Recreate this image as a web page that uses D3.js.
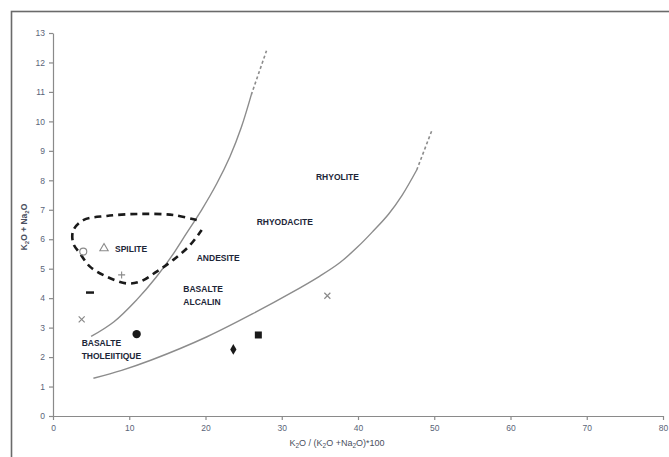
<!DOCTYPE html>
<html><head><meta charset="utf-8">
<script src="https://cdn.jsdelivr.net/npm/d3@7"></script>
<style>body{margin:0;background:#fff}svg{display:block}</style>
</head><body>
<svg id="c" width="669" height="457"></svg>
<script>
const xTicks = [0,10,20,30,40,50,60,70,80];
const yTicks = [0,1,2,3,4,5,6,7,8,9,10,11,12,13];
const boundary1 = [[5,2.7],[8,3.2],[11,3.95],[13.5,4.7],[15.5,5.4],[17.5,6.2],[19.5,7.0],[21.5,7.9],[23.2,8.8],[24.7,9.8],[26,10.9]];
const boundary1Ext = [[26,10.9],[28,12.4]];
const boundary2 = [[5.3,1.28],[9,1.55],[12.9,1.9],[20.2,2.69],[26.7,3.54],[31.1,4.16],[35,4.75],[37.6,5.2],[40,5.75],[42,6.28],[44,6.85],[45.8,7.5],[47.7,8.35]];
const boundary2Ext = [[47.7,8.35],[49.7,9.7]];
const spiliteField = [[18.85,6.65],[15.78,6.82],[11.41,6.86],[7.04,6.79],[3.97,6.65],[2.66,6.3],[2.66,5.86],[3.54,5.52],[4.85,5.07],[7.04,4.73],[9.67,4.5],[11.41,4.56],[13.6,4.9],[15.78,5.3],[17.97,5.8],[19.5,6.31]];
const samplesX = [3.97,6.69,9.0,4.85,3.76,10.97,23.65,26.93,35.98];
const samplesY = [5.58,5.69,4.79,4.19,3.28,2.78,2.26,2.75,4.08];
const samplesSymbol = ["circle","triangle","plus","dash","cross","dot","diamond","square","cross"];
const fieldNames = [["SPILITE"],["ANDESITE"],["BASALTE","ALCALIN"],["BASALTE","THOLEIITIQUE"],["RHYODACITE"],["RHYOLITE"]];
const fieldX = [8.13,18.85,17.09,3.76,26.71,34.49];
const fieldY = [5.67,5.35,4.30,2.47,6.60,8.10];

const svg = d3.select("#c");
const x = d3.scaleLinear().domain([0,80]).range([53,663]);
const y = d3.scaleLinear().domain([0,13]).range([416,33]);
const font = "Liberation Sans, Arial, sans-serif";

// frame
svg.append("rect").attr("x",11.5).attr("y",11.5).attr("width",700).attr("height",500)
  .attr("fill","none").attr("stroke","#6a6a6a").attr("stroke-width",1.6);

const axisColor = "#8a8a8a";
const gx = svg.append("g").attr("transform","translate(0,416)")
  .call(d3.axisBottom(x).tickValues(xTicks).tickSize(4).tickPadding(5).tickSizeOuter(0));
const gy = svg.append("g").attr("transform","translate(53,0)")
  .call(d3.axisLeft(y).tickValues(yTicks).tickSize(4).tickPadding(4).tickSizeOuter(0));
[gx,gy].forEach(g=>{
  g.selectAll("path,line").attr("stroke",axisColor).attr("stroke-width",1.2);
  g.selectAll("text").attr("fill","#5a6478").attr("font-family",font).attr("font-size",8.5);
});

// axis titles
const xt = svg.append("text").attr("x",337).attr("y",446).attr("text-anchor","middle")
  .attr("font-family",font).attr("font-size",9).attr("fill","#4a5060");
xt.append("tspan").text("K");
xt.append("tspan").text("2").attr("font-size",6.5).attr("dy",1.5);
xt.append("tspan").text("O / (K").attr("dy",-1.5);
xt.append("tspan").text("2").attr("font-size",6.5).attr("dy",1.5);
xt.append("tspan").text("O +Na").attr("dy",-1.5);
xt.append("tspan").text("2").attr("font-size",6.5).attr("dy",1.5);
xt.append("tspan").text("O)*100").attr("dy",-1.5);

const yt = svg.append("text").attr("transform","translate(27,227) rotate(-90)").attr("text-anchor","middle")
  .attr("font-family",font).attr("font-size",8.5).attr("font-weight","bold").attr("fill","#4a5060");
yt.append("tspan").text("K");
yt.append("tspan").text("2").attr("font-size",6).attr("dy",1.5);
yt.append("tspan").text("O + Na").attr("dy",-1.5);
yt.append("tspan").text("2").attr("font-size",6).attr("dy",1.5);
yt.append("tspan").text("O").attr("dy",-1.5);

// boundaries
const line = d3.line().x(d=>x(d[0])).y(d=>y(d[1])).curve(d3.curveCatmullRom);
const curveColor = "#8c8c8c";
[boundary1,boundary2].forEach(b=>{
  svg.append("path").attr("d",line(b)).attr("fill","none").attr("stroke",curveColor).attr("stroke-width",1.4);
});
[boundary1Ext,boundary2Ext].forEach(b=>{
  svg.append("path").attr("d",line(b)).attr("fill","none").attr("stroke",curveColor).attr("stroke-width",1.6).attr("stroke-dasharray","3,2.5");
});

// spilite dashed field
svg.append("path").attr("d",line(spiliteField))
  .attr("fill","none").attr("stroke","#1a1a1a").attr("stroke-width",2.6).attr("stroke-dasharray","7,5");

// samples
samplesX.forEach((sx,i)=>{
  const cx = x(sx), cy = y(samplesY[i]), s = samplesSymbol[i];
  const g = svg.append("g").attr("transform",`translate(${cx},${cy})`);
  if (s==="circle") g.append("circle").attr("r",3.5).attr("fill","none").attr("stroke","#8a8a8a").attr("stroke-width",1.1);
  else if (s==="triangle") g.append("path").attr("d",d3.symbol(d3.symbolTriangle,30)()).attr("fill","none").attr("stroke","#8a8a8a").attr("stroke-width",1.1);
  else if (s==="plus") g.append("path").attr("d","M-3.5,0H3.5M0,-3.5V3.5").attr("stroke","#8a8a8a").attr("stroke-width",1.1);
  else if (s==="cross") g.append("path").attr("d","M-3,-3L3,3M-3,3L3,-3").attr("stroke","#8a8a8a").attr("stroke-width",1.2);
  else if (s==="dash") g.append("path").attr("d","M-4,0H4").attr("stroke","#1a1a1a").attr("stroke-width",2.5);
  else if (s==="dot") g.append("circle").attr("r",4.2).attr("fill","#1a1a1a");
  else if (s==="diamond") g.append("path").attr("d",d3.symbol(d3.symbolDiamond,34)()).attr("fill","#1a1a1a");
  else if (s==="square") g.append("rect").attr("x",-3.5).attr("y",-3.5).attr("width",7).attr("height",7).attr("fill","#1a1a1a");
});

// field labels
fieldNames.forEach((lines,i)=>{
  const t = svg.append("text").attr("x",x(fieldX[i])).attr("y",y(fieldY[i])).attr("dy","0.35em")
    .attr("font-family",font).attr("font-size",8.5).attr("font-weight","bold").attr("fill","#1d2638");
  lines.forEach((l,j)=>t.append("tspan").attr("x",x(fieldX[i])).attr("dy",j===0?"0.35em":"1.45em").text(l));
});
</script>
</body></html>
